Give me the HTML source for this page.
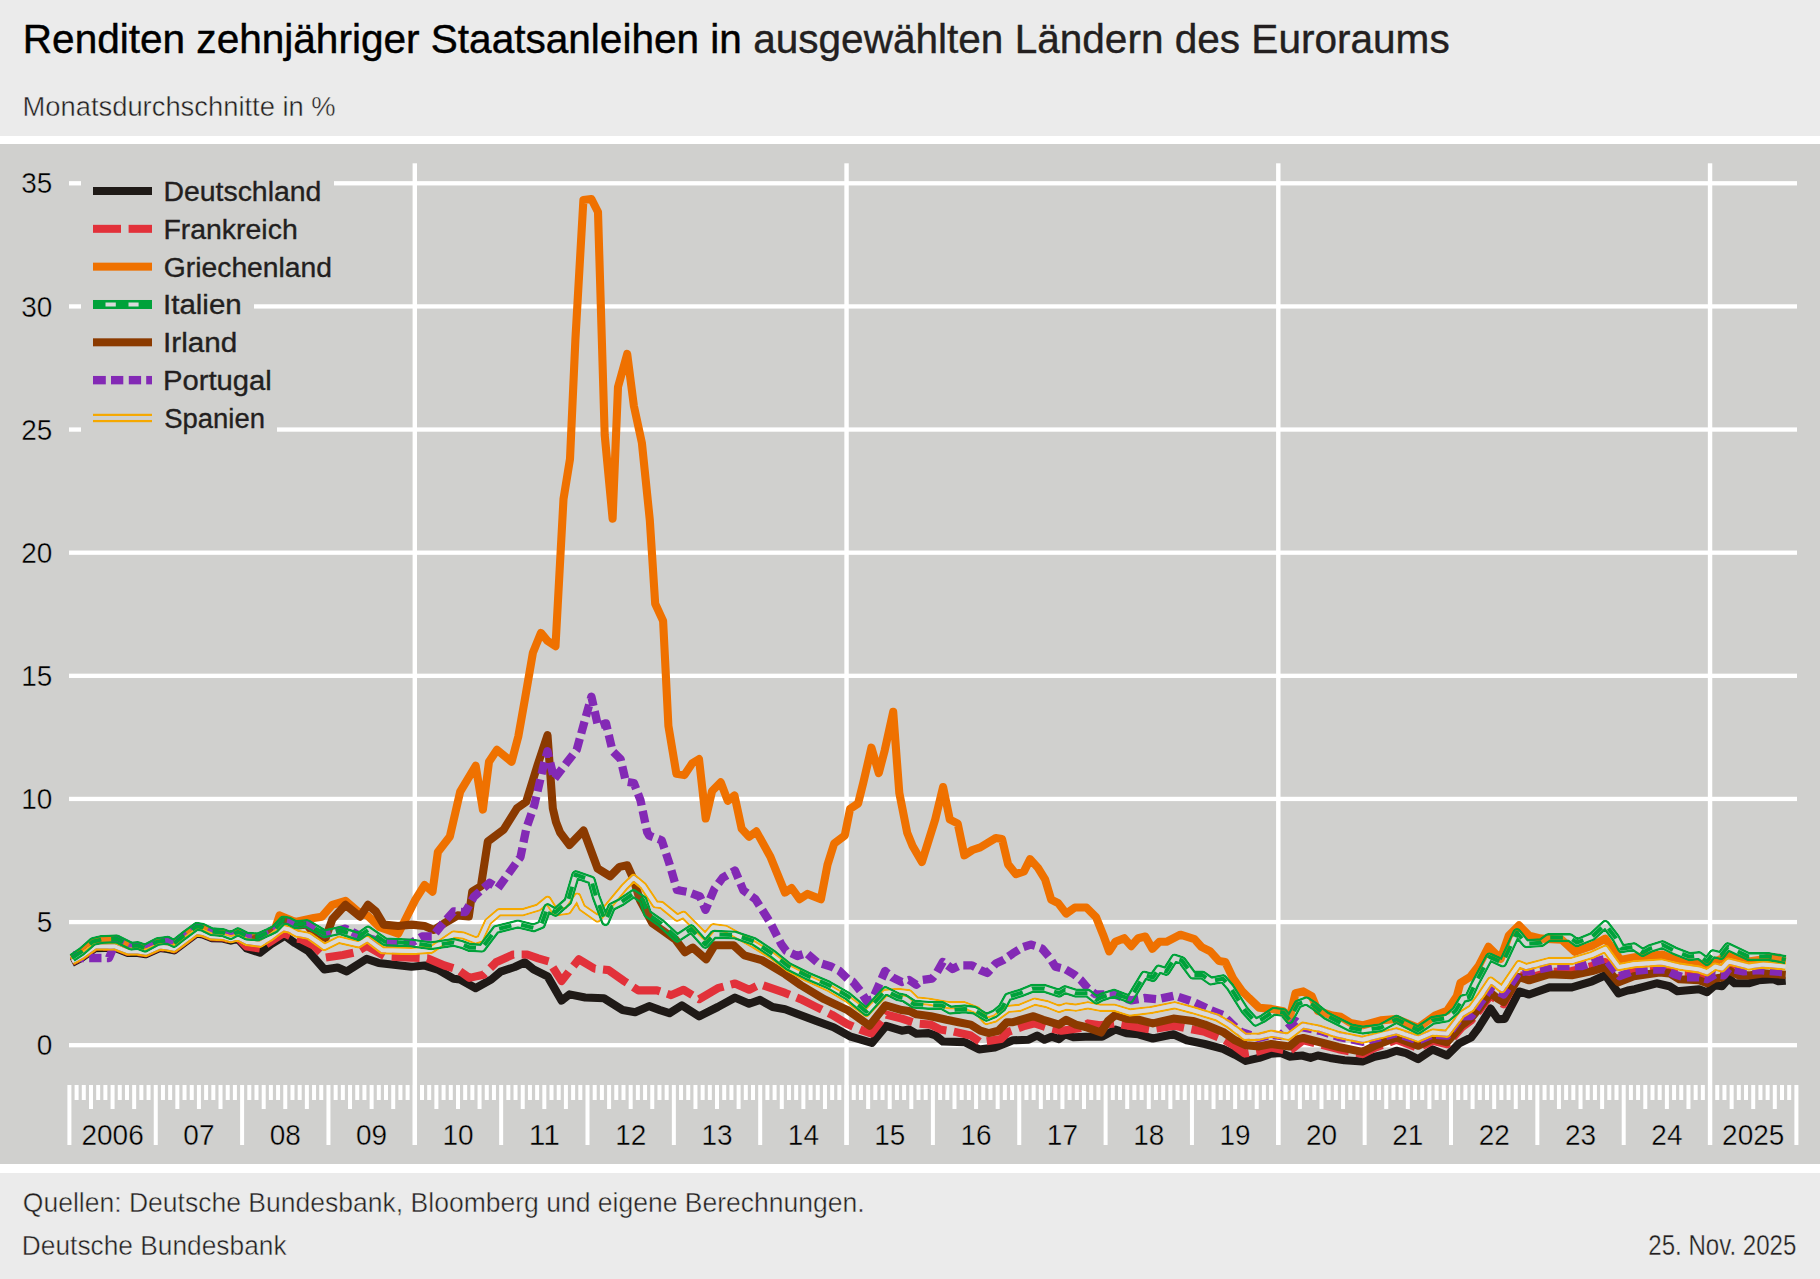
<!DOCTYPE html>
<html lang="de"><head><meta charset="utf-8"><title>Renditen zehnjähriger Staatsanleihen</title>
<style>
html,body{margin:0;padding:0;}
body{width:1820px;height:1279px;overflow:hidden;background:#ebebeb;position:relative;font-family:"Liberation Sans",Arial,sans-serif;color:#231f20;}
.band{position:absolute;left:0;width:1820px;}
#title{position:absolute;left:25px;top:14px;font-size:40px;line-height:48px;white-space:nowrap;color:#000;}
#title span{color:#231f20;}
#sub{position:absolute;left:25px;top:90px;font-size:28px;line-height:34px;white-space:nowrap;}
.ft{position:absolute;font-size:28px;line-height:34px;white-space:nowrap;}
svg{position:absolute;left:0;top:0;}
.ax{font-family:"Liberation Sans",Arial,sans-serif;font-size:29px;fill:#000;stroke:#d0d0ce;stroke-width:0.4px;}
.lg{font-family:"Liberation Sans",Arial,sans-serif;font-size:28.4px;fill:#231f20;stroke:#231f20;stroke-width:0.35px;}
.tt{font-family:"Liberation Sans",Arial,sans-serif;font-size:40.7px;fill:#000;stroke:#000;stroke-width:0.45px;}
.tt2{fill:#231f20;stroke:#231f20;stroke-width:0.4px;}
.st{font-family:"Liberation Sans",Arial,sans-serif;font-size:28.2px;fill:#231f20;stroke:#ebebeb;stroke-width:0.45px;}
.ftx{font-family:"Liberation Sans",Arial,sans-serif;font-size:27.8px;fill:#231f20;stroke:#ebebeb;stroke-width:0.45px;}
.dtx{font-family:"Liberation Sans",Arial,sans-serif;font-size:29px;fill:#231f20;stroke:#ebebeb;stroke-width:0.35px;}
.ln{fill:none;stroke-linejoin:round;stroke-linecap:butt;}
</style></head>
<body>
<div class="band" style="top:135.5px;height:8.5px;background:#fff"></div>
<div class="band" style="top:144px;height:1020px;background:#d0d0ce"></div>
<div class="band" style="top:1164px;height:8.5px;background:#fff"></div>
<svg width="1820" height="1279" viewBox="0 0 1820 1279">
<defs>
<mask id="mES" maskUnits="userSpaceOnUse" x="0" y="0" width="1820" height="1279">
<path d="M72.0,961.4 L81.8,956.1 L95.0,946.6 L114.7,946.3 L127.9,951.5 L137.8,951.5 L145.7,952.8 L159.6,946.6 L167.5,947.6 L174.0,948.9 L184.0,941.5 L196.6,932.0 L202.7,933.0 L211.5,936.6 L223.0,937.0 L230.9,939.2 L237.9,937.4 L246.7,942.0 L260.3,943.8 L271.3,937.0 L277.5,932.2 L283.6,928.2 L289.0,929.5 L297.0,933.7 L309.0,936.0 L324.4,947.0 L339.0,939.8 L358.7,944.4 L367.3,939.0 L382.4,950.3 L411.4,951.0 L431.2,949.7 L453.6,934.5 L463.0,935.4 L475.6,940.4 L480.3,938.8 L488.1,921.6 L499.1,912.3 L522.5,912.3 L538.2,907.6 L547.6,899.8 L555.4,912.3 L567.9,910.7 L577.3,896.6 L582.0,907.6 L597.6,918.5 L608.6,906.0 L624.2,887.2 L633.6,877.9 L643.0,885.7 L655.5,904.4 L661.5,905.0 L677.2,917.8 L683.5,914.7 L705.3,936.6 L713.2,927.2 L725.7,928.8 L753.8,944.4 L772.6,956.0 L788.2,968.0 L807.0,978.0 L828.9,988.0 L847.6,999.0 L866.4,1013.0 L885.1,993.0 L898.1,992.0 L909.0,993.2 L916.3,1000.4 L928.4,1001.6 L950.1,1005.3 L964.6,1005.3 L976.7,1010.1 L986.4,1021.0 L994.8,1018.6 L1008.1,1008.9 L1020.2,1007.7 L1034.7,1001.6 L1046.8,1004.1 L1058.9,1008.9 L1066.1,1006.5 L1075.8,1007.7 L1087.9,1005.3 L1100.0,1007.7 L1114.2,1007.7 L1129.9,1012.5 L1150.4,1010.1 L1174.6,1005.3 L1192.7,1010.1 L1216.9,1017.4 L1229.0,1024.6 L1244.7,1036.7 L1259.2,1036.7 L1271.3,1033.7 L1288.2,1036.7 L1303.0,1025.5 L1320.2,1028.9 L1338.4,1034.9 L1362.5,1039.8 L1396.4,1031.3 L1418.1,1038.6 L1432.6,1032.5 L1447.1,1033.7 L1461.6,1014.4 L1471.3,1008.4 L1481.0,995.1 L1490.7,980.5 L1502.0,989.2 L1519.0,964.0 L1526.1,967.1 L1549.4,961.0 L1571.8,961.0 L1592.1,954.9 L1605.3,948.8 L1618.6,967.1 L1633.8,964.3 L1661.5,962.5 L1679.3,966.5 L1699.1,969.5 L1707.0,972.4 L1715.0,966.5 L1721.9,968.5 L1728.6,961.5 L1748.6,966.5 L1763.4,964.5 L1785.7,966.5" class="ln" stroke="#fff" stroke-width="8.4"/>
<path d="M72.0,961.4 L81.8,956.1 L95.0,946.6 L114.7,946.3 L127.9,951.5 L137.8,951.5 L145.7,952.8 L159.6,946.6 L167.5,947.6 L174.0,948.9 L184.0,941.5 L196.6,932.0 L202.7,933.0 L211.5,936.6 L223.0,937.0 L230.9,939.2 L237.9,937.4 L246.7,942.0 L260.3,943.8 L271.3,937.0 L277.5,932.2 L283.6,928.2 L289.0,929.5 L297.0,933.7 L309.0,936.0 L324.4,947.0 L339.0,939.8 L358.7,944.4 L367.3,939.0 L382.4,950.3 L411.4,951.0 L431.2,949.7 L453.6,934.5 L463.0,935.4 L475.6,940.4 L480.3,938.8 L488.1,921.6 L499.1,912.3 L522.5,912.3 L538.2,907.6 L547.6,899.8 L555.4,912.3 L567.9,910.7 L577.3,896.6 L582.0,907.6 L597.6,918.5 L608.6,906.0 L624.2,887.2 L633.6,877.9 L643.0,885.7 L655.5,904.4 L661.5,905.0 L677.2,917.8 L683.5,914.7 L705.3,936.6 L713.2,927.2 L725.7,928.8 L753.8,944.4 L772.6,956.0 L788.2,968.0 L807.0,978.0 L828.9,988.0 L847.6,999.0 L866.4,1013.0 L885.1,993.0 L898.1,992.0 L909.0,993.2 L916.3,1000.4 L928.4,1001.6 L950.1,1005.3 L964.6,1005.3 L976.7,1010.1 L986.4,1021.0 L994.8,1018.6 L1008.1,1008.9 L1020.2,1007.7 L1034.7,1001.6 L1046.8,1004.1 L1058.9,1008.9 L1066.1,1006.5 L1075.8,1007.7 L1087.9,1005.3 L1100.0,1007.7 L1114.2,1007.7 L1129.9,1012.5 L1150.4,1010.1 L1174.6,1005.3 L1192.7,1010.1 L1216.9,1017.4 L1229.0,1024.6 L1244.7,1036.7 L1259.2,1036.7 L1271.3,1033.7 L1288.2,1036.7 L1303.0,1025.5 L1320.2,1028.9 L1338.4,1034.9 L1362.5,1039.8 L1396.4,1031.3 L1418.1,1038.6 L1432.6,1032.5 L1447.1,1033.7 L1461.6,1014.4 L1471.3,1008.4 L1481.0,995.1 L1490.7,980.5 L1502.0,989.2 L1519.0,964.0 L1526.1,967.1 L1549.4,961.0 L1571.8,961.0 L1592.1,954.9 L1605.3,948.8 L1618.6,967.1 L1633.8,964.3 L1661.5,962.5 L1679.3,966.5 L1699.1,969.5 L1707.0,972.4 L1715.0,966.5 L1721.9,968.5 L1728.6,961.5 L1748.6,966.5 L1763.4,964.5 L1785.7,966.5" class="ln" stroke="#000" stroke-width="4.0"/>
</mask>
<mask id="mIT" maskUnits="userSpaceOnUse" x="0" y="0" width="1820" height="1279">
<path d="M72.0,958.0 L81.8,951.4 L93.0,941.5 L101.6,939.5 L116.7,938.9 L131.2,946.1 L137.8,945.5 L145.1,948.1 L157.6,941.5 L167.5,940.2 L174.0,943.5 L183.5,936.0 L196.6,926.4 L202.7,927.3 L211.5,931.7 L223.0,932.6 L230.9,935.6 L237.9,931.7 L246.7,936.1 L258.0,936.9 L268.7,932.1 L274.8,929.1 L283.3,920.0 L288.9,921.1 L295.6,924.6 L307.0,923.5 L324.4,933.8 L340.0,930.5 L358.7,936.5 L368.0,930.0 L385.0,941.8 L411.4,943.0 L431.0,945.7 L453.6,942.4 L462.0,944.5 L469.4,947.4 L481.9,948.2 L496.0,929.5 L517.9,924.0 L533.5,927.9 L541.3,924.8 L547.6,907.6 L555.4,912.3 L567.9,901.3 L575.7,874.7 L591.4,880.2 L596.0,896.6 L605.4,921.6 L611.7,906.8 L621.1,902.1 L633.6,893.5 L643.0,899.8 L647.6,913.8 L661.5,923.6 L677.2,938.2 L691.3,928.8 L705.3,944.4 L713.9,934.3 L735.0,935.0 L753.8,941.3 L772.6,953.8 L788.2,966.3 L807.0,975.7 L828.9,985.1 L847.6,996.0 L866.4,1011.7 L885.5,990.5 L898.1,996.8 L904.2,998.0 L913.8,1004.1 L928.4,1005.3 L941.6,1005.3 L950.1,1010.1 L964.6,1008.9 L974.3,1010.1 L986.4,1017.4 L994.8,1013.7 L1002.1,1007.7 L1008.1,996.8 L1020.2,993.2 L1032.3,988.4 L1044.4,988.4 L1058.9,993.2 L1064.9,989.6 L1075.8,993.2 L1087.9,993.2 L1096.4,1000.0 L1102.0,997.0 L1114.2,993.2 L1129.9,999.2 L1144.4,975.1 L1152.9,977.5 L1158.9,969.0 L1166.2,971.4 L1174.6,958.1 L1181.9,960.5 L1192.7,975.1 L1202.4,975.1 L1210.9,981.1 L1223.0,978.7 L1230.2,987.1 L1244.7,1010.1 L1255.6,1022.2 L1262.9,1018.6 L1273.7,1011.3 L1283.4,1012.5 L1289.5,1019.8 L1297.9,1004.1 L1306.5,1000.8 L1314.2,1005.9 L1326.3,1015.6 L1338.4,1021.6 L1350.4,1027.7 L1362.5,1030.1 L1380.7,1027.7 L1396.4,1019.2 L1418.1,1030.1 L1432.6,1020.4 L1447.1,1018.0 L1455.6,1010.8 L1462.9,998.7 L1469.0,997.0 L1474.9,984.2 L1489.5,956.9 L1502.7,963.0 L1516.9,932.5 L1526.1,943.7 L1541.3,942.7 L1548.4,937.6 L1569.8,937.6 L1576.9,942.7 L1592.1,936.6 L1605.3,924.4 L1615.5,937.6 L1621.6,948.8 L1633.8,946.7 L1642.8,952.6 L1649.7,948.7 L1662.5,944.7 L1674.4,950.7 L1689.2,956.6 L1699.1,955.6 L1707.0,961.5 L1713.0,953.6 L1720.9,955.6 L1727.8,946.7 L1748.6,956.6 L1768.4,956.6 L1785.7,959.6" class="ln" stroke="#fff" stroke-width="9.2"/>
<path d="M72.0,958.0 L81.8,951.4 L93.0,941.5 L101.6,939.5 L116.7,938.9 L131.2,946.1 L137.8,945.5 L145.1,948.1 L157.6,941.5 L167.5,940.2 L174.0,943.5 L183.5,936.0 L196.6,926.4 L202.7,927.3 L211.5,931.7 L223.0,932.6 L230.9,935.6 L237.9,931.7 L246.7,936.1 L258.0,936.9 L268.7,932.1 L274.8,929.1 L283.3,920.0 L288.9,921.1 L295.6,924.6 L307.0,923.5 L324.4,933.8 L340.0,930.5 L358.7,936.5 L368.0,930.0 L385.0,941.8 L411.4,943.0 L431.0,945.7 L453.6,942.4 L462.0,944.5 L469.4,947.4 L481.9,948.2 L496.0,929.5 L517.9,924.0 L533.5,927.9 L541.3,924.8 L547.6,907.6 L555.4,912.3 L567.9,901.3 L575.7,874.7 L591.4,880.2 L596.0,896.6 L605.4,921.6 L611.7,906.8 L621.1,902.1 L633.6,893.5 L643.0,899.8 L647.6,913.8 L661.5,923.6 L677.2,938.2 L691.3,928.8 L705.3,944.4 L713.9,934.3 L735.0,935.0 L753.8,941.3 L772.6,953.8 L788.2,966.3 L807.0,975.7 L828.9,985.1 L847.6,996.0 L866.4,1011.7 L885.5,990.5 L898.1,996.8 L904.2,998.0 L913.8,1004.1 L928.4,1005.3 L941.6,1005.3 L950.1,1010.1 L964.6,1008.9 L974.3,1010.1 L986.4,1017.4 L994.8,1013.7 L1002.1,1007.7 L1008.1,996.8 L1020.2,993.2 L1032.3,988.4 L1044.4,988.4 L1058.9,993.2 L1064.9,989.6 L1075.8,993.2 L1087.9,993.2 L1096.4,1000.0 L1102.0,997.0 L1114.2,993.2 L1129.9,999.2 L1144.4,975.1 L1152.9,977.5 L1158.9,969.0 L1166.2,971.4 L1174.6,958.1 L1181.9,960.5 L1192.7,975.1 L1202.4,975.1 L1210.9,981.1 L1223.0,978.7 L1230.2,987.1 L1244.7,1010.1 L1255.6,1022.2 L1262.9,1018.6 L1273.7,1011.3 L1283.4,1012.5 L1289.5,1019.8 L1297.9,1004.1 L1306.5,1000.8 L1314.2,1005.9 L1326.3,1015.6 L1338.4,1021.6 L1350.4,1027.7 L1362.5,1030.1 L1380.7,1027.7 L1396.4,1019.2 L1418.1,1030.1 L1432.6,1020.4 L1447.1,1018.0 L1455.6,1010.8 L1462.9,998.7 L1469.0,997.0 L1474.9,984.2 L1489.5,956.9 L1502.7,963.0 L1516.9,932.5 L1526.1,943.7 L1541.3,942.7 L1548.4,937.6 L1569.8,937.6 L1576.9,942.7 L1592.1,936.6 L1605.3,924.4 L1615.5,937.6 L1621.6,948.8 L1633.8,946.7 L1642.8,952.6 L1649.7,948.7 L1662.5,944.7 L1674.4,950.7 L1689.2,956.6 L1699.1,955.6 L1707.0,961.5 L1713.0,953.6 L1720.9,955.6 L1727.8,946.7 L1748.6,956.6 L1768.4,956.6 L1785.7,959.6" class="ln" stroke="#000" stroke-width="4.4"/>
</mask>
</defs>
<rect x="69" y="1043.05" width="1728" height="4.3" fill="#fff"/>
<rect x="69" y="919.92" width="1728" height="4.3" fill="#fff"/>
<rect x="69" y="796.79" width="1728" height="4.3" fill="#fff"/>
<rect x="69" y="673.66" width="1728" height="4.3" fill="#fff"/>
<rect x="69" y="550.53" width="1728" height="4.3" fill="#fff"/>
<rect x="69" y="427.40" width="1728" height="4.3" fill="#fff"/>
<rect x="69" y="304.27" width="1728" height="4.3" fill="#fff"/>
<rect x="69" y="181.14" width="1728" height="4.3" fill="#fff"/>
<rect x="412.60" y="163.3" width="4.4" height="981.7" fill="#fff"/>
<rect x="844.35" y="163.3" width="4.4" height="981.7" fill="#fff"/>
<rect x="1276.10" y="163.3" width="4.4" height="981.7" fill="#fff"/>
<rect x="1707.85" y="163.3" width="4.4" height="981.7" fill="#fff"/>
<rect x="67.40" y="1085" width="4" height="60" fill="#fff"/>
<rect x="74.60" y="1085" width="4" height="15" fill="#fff"/>
<rect x="81.79" y="1085" width="4" height="15" fill="#fff"/>
<rect x="88.99" y="1085" width="4" height="24" fill="#fff"/>
<rect x="96.18" y="1085" width="4" height="15" fill="#fff"/>
<rect x="103.38" y="1085" width="4" height="15" fill="#fff"/>
<rect x="110.58" y="1085" width="4" height="24" fill="#fff"/>
<rect x="117.77" y="1085" width="4" height="15" fill="#fff"/>
<rect x="124.97" y="1085" width="4" height="15" fill="#fff"/>
<rect x="132.16" y="1085" width="4" height="24" fill="#fff"/>
<rect x="139.36" y="1085" width="4" height="15" fill="#fff"/>
<rect x="146.55" y="1085" width="4" height="15" fill="#fff"/>
<rect x="153.75" y="1085" width="4" height="60" fill="#fff"/>
<rect x="160.95" y="1085" width="4" height="15" fill="#fff"/>
<rect x="168.14" y="1085" width="4" height="15" fill="#fff"/>
<rect x="175.34" y="1085" width="4" height="24" fill="#fff"/>
<rect x="182.53" y="1085" width="4" height="15" fill="#fff"/>
<rect x="189.73" y="1085" width="4" height="15" fill="#fff"/>
<rect x="196.92" y="1085" width="4" height="24" fill="#fff"/>
<rect x="204.12" y="1085" width="4" height="15" fill="#fff"/>
<rect x="211.32" y="1085" width="4" height="15" fill="#fff"/>
<rect x="218.51" y="1085" width="4" height="24" fill="#fff"/>
<rect x="225.71" y="1085" width="4" height="15" fill="#fff"/>
<rect x="232.90" y="1085" width="4" height="15" fill="#fff"/>
<rect x="240.10" y="1085" width="4" height="60" fill="#fff"/>
<rect x="247.30" y="1085" width="4" height="15" fill="#fff"/>
<rect x="254.49" y="1085" width="4" height="15" fill="#fff"/>
<rect x="261.69" y="1085" width="4" height="24" fill="#fff"/>
<rect x="268.88" y="1085" width="4" height="15" fill="#fff"/>
<rect x="276.08" y="1085" width="4" height="15" fill="#fff"/>
<rect x="283.27" y="1085" width="4" height="24" fill="#fff"/>
<rect x="290.47" y="1085" width="4" height="15" fill="#fff"/>
<rect x="297.67" y="1085" width="4" height="15" fill="#fff"/>
<rect x="304.86" y="1085" width="4" height="24" fill="#fff"/>
<rect x="312.06" y="1085" width="4" height="15" fill="#fff"/>
<rect x="319.25" y="1085" width="4" height="15" fill="#fff"/>
<rect x="326.45" y="1085" width="4" height="60" fill="#fff"/>
<rect x="333.65" y="1085" width="4" height="15" fill="#fff"/>
<rect x="340.84" y="1085" width="4" height="15" fill="#fff"/>
<rect x="348.04" y="1085" width="4" height="24" fill="#fff"/>
<rect x="355.23" y="1085" width="4" height="15" fill="#fff"/>
<rect x="362.43" y="1085" width="4" height="15" fill="#fff"/>
<rect x="369.62" y="1085" width="4" height="24" fill="#fff"/>
<rect x="376.82" y="1085" width="4" height="15" fill="#fff"/>
<rect x="384.02" y="1085" width="4" height="15" fill="#fff"/>
<rect x="391.21" y="1085" width="4" height="24" fill="#fff"/>
<rect x="398.41" y="1085" width="4" height="15" fill="#fff"/>
<rect x="405.60" y="1085" width="4" height="15" fill="#fff"/>
<rect x="412.80" y="1085" width="4" height="60" fill="#fff"/>
<rect x="420.00" y="1085" width="4" height="15" fill="#fff"/>
<rect x="427.19" y="1085" width="4" height="15" fill="#fff"/>
<rect x="434.39" y="1085" width="4" height="24" fill="#fff"/>
<rect x="441.58" y="1085" width="4" height="15" fill="#fff"/>
<rect x="448.78" y="1085" width="4" height="15" fill="#fff"/>
<rect x="455.98" y="1085" width="4" height="24" fill="#fff"/>
<rect x="463.17" y="1085" width="4" height="15" fill="#fff"/>
<rect x="470.37" y="1085" width="4" height="15" fill="#fff"/>
<rect x="477.56" y="1085" width="4" height="24" fill="#fff"/>
<rect x="484.76" y="1085" width="4" height="15" fill="#fff"/>
<rect x="491.95" y="1085" width="4" height="15" fill="#fff"/>
<rect x="499.15" y="1085" width="4" height="60" fill="#fff"/>
<rect x="506.35" y="1085" width="4" height="15" fill="#fff"/>
<rect x="513.54" y="1085" width="4" height="15" fill="#fff"/>
<rect x="520.74" y="1085" width="4" height="24" fill="#fff"/>
<rect x="527.93" y="1085" width="4" height="15" fill="#fff"/>
<rect x="535.13" y="1085" width="4" height="15" fill="#fff"/>
<rect x="542.32" y="1085" width="4" height="24" fill="#fff"/>
<rect x="549.52" y="1085" width="4" height="15" fill="#fff"/>
<rect x="556.72" y="1085" width="4" height="15" fill="#fff"/>
<rect x="563.91" y="1085" width="4" height="24" fill="#fff"/>
<rect x="571.11" y="1085" width="4" height="15" fill="#fff"/>
<rect x="578.30" y="1085" width="4" height="15" fill="#fff"/>
<rect x="585.50" y="1085" width="4" height="60" fill="#fff"/>
<rect x="592.70" y="1085" width="4" height="15" fill="#fff"/>
<rect x="599.89" y="1085" width="4" height="15" fill="#fff"/>
<rect x="607.09" y="1085" width="4" height="24" fill="#fff"/>
<rect x="614.28" y="1085" width="4" height="15" fill="#fff"/>
<rect x="621.48" y="1085" width="4" height="15" fill="#fff"/>
<rect x="628.67" y="1085" width="4" height="24" fill="#fff"/>
<rect x="635.87" y="1085" width="4" height="15" fill="#fff"/>
<rect x="643.07" y="1085" width="4" height="15" fill="#fff"/>
<rect x="650.26" y="1085" width="4" height="24" fill="#fff"/>
<rect x="657.46" y="1085" width="4" height="15" fill="#fff"/>
<rect x="664.65" y="1085" width="4" height="15" fill="#fff"/>
<rect x="671.85" y="1085" width="4" height="60" fill="#fff"/>
<rect x="679.05" y="1085" width="4" height="15" fill="#fff"/>
<rect x="686.24" y="1085" width="4" height="15" fill="#fff"/>
<rect x="693.44" y="1085" width="4" height="24" fill="#fff"/>
<rect x="700.63" y="1085" width="4" height="15" fill="#fff"/>
<rect x="707.83" y="1085" width="4" height="15" fill="#fff"/>
<rect x="715.02" y="1085" width="4" height="24" fill="#fff"/>
<rect x="722.22" y="1085" width="4" height="15" fill="#fff"/>
<rect x="729.42" y="1085" width="4" height="15" fill="#fff"/>
<rect x="736.61" y="1085" width="4" height="24" fill="#fff"/>
<rect x="743.81" y="1085" width="4" height="15" fill="#fff"/>
<rect x="751.00" y="1085" width="4" height="15" fill="#fff"/>
<rect x="758.20" y="1085" width="4" height="60" fill="#fff"/>
<rect x="765.40" y="1085" width="4" height="15" fill="#fff"/>
<rect x="772.59" y="1085" width="4" height="15" fill="#fff"/>
<rect x="779.79" y="1085" width="4" height="24" fill="#fff"/>
<rect x="786.98" y="1085" width="4" height="15" fill="#fff"/>
<rect x="794.18" y="1085" width="4" height="15" fill="#fff"/>
<rect x="801.37" y="1085" width="4" height="24" fill="#fff"/>
<rect x="808.57" y="1085" width="4" height="15" fill="#fff"/>
<rect x="815.77" y="1085" width="4" height="15" fill="#fff"/>
<rect x="822.96" y="1085" width="4" height="24" fill="#fff"/>
<rect x="830.16" y="1085" width="4" height="15" fill="#fff"/>
<rect x="837.35" y="1085" width="4" height="15" fill="#fff"/>
<rect x="844.55" y="1085" width="4" height="60" fill="#fff"/>
<rect x="851.75" y="1085" width="4" height="15" fill="#fff"/>
<rect x="858.94" y="1085" width="4" height="15" fill="#fff"/>
<rect x="866.14" y="1085" width="4" height="24" fill="#fff"/>
<rect x="873.33" y="1085" width="4" height="15" fill="#fff"/>
<rect x="880.53" y="1085" width="4" height="15" fill="#fff"/>
<rect x="887.72" y="1085" width="4" height="24" fill="#fff"/>
<rect x="894.92" y="1085" width="4" height="15" fill="#fff"/>
<rect x="902.12" y="1085" width="4" height="15" fill="#fff"/>
<rect x="909.31" y="1085" width="4" height="24" fill="#fff"/>
<rect x="916.51" y="1085" width="4" height="15" fill="#fff"/>
<rect x="923.70" y="1085" width="4" height="15" fill="#fff"/>
<rect x="930.90" y="1085" width="4" height="60" fill="#fff"/>
<rect x="938.10" y="1085" width="4" height="15" fill="#fff"/>
<rect x="945.29" y="1085" width="4" height="15" fill="#fff"/>
<rect x="952.49" y="1085" width="4" height="24" fill="#fff"/>
<rect x="959.68" y="1085" width="4" height="15" fill="#fff"/>
<rect x="966.88" y="1085" width="4" height="15" fill="#fff"/>
<rect x="974.07" y="1085" width="4" height="24" fill="#fff"/>
<rect x="981.27" y="1085" width="4" height="15" fill="#fff"/>
<rect x="988.47" y="1085" width="4" height="15" fill="#fff"/>
<rect x="995.66" y="1085" width="4" height="24" fill="#fff"/>
<rect x="1002.86" y="1085" width="4" height="15" fill="#fff"/>
<rect x="1010.05" y="1085" width="4" height="15" fill="#fff"/>
<rect x="1017.25" y="1085" width="4" height="60" fill="#fff"/>
<rect x="1024.45" y="1085" width="4" height="15" fill="#fff"/>
<rect x="1031.64" y="1085" width="4" height="15" fill="#fff"/>
<rect x="1038.84" y="1085" width="4" height="24" fill="#fff"/>
<rect x="1046.03" y="1085" width="4" height="15" fill="#fff"/>
<rect x="1053.23" y="1085" width="4" height="15" fill="#fff"/>
<rect x="1060.42" y="1085" width="4" height="24" fill="#fff"/>
<rect x="1067.62" y="1085" width="4" height="15" fill="#fff"/>
<rect x="1074.82" y="1085" width="4" height="15" fill="#fff"/>
<rect x="1082.01" y="1085" width="4" height="24" fill="#fff"/>
<rect x="1089.21" y="1085" width="4" height="15" fill="#fff"/>
<rect x="1096.40" y="1085" width="4" height="15" fill="#fff"/>
<rect x="1103.60" y="1085" width="4" height="60" fill="#fff"/>
<rect x="1110.80" y="1085" width="4" height="15" fill="#fff"/>
<rect x="1117.99" y="1085" width="4" height="15" fill="#fff"/>
<rect x="1125.19" y="1085" width="4" height="24" fill="#fff"/>
<rect x="1132.38" y="1085" width="4" height="15" fill="#fff"/>
<rect x="1139.58" y="1085" width="4" height="15" fill="#fff"/>
<rect x="1146.78" y="1085" width="4" height="24" fill="#fff"/>
<rect x="1153.97" y="1085" width="4" height="15" fill="#fff"/>
<rect x="1161.17" y="1085" width="4" height="15" fill="#fff"/>
<rect x="1168.36" y="1085" width="4" height="24" fill="#fff"/>
<rect x="1175.56" y="1085" width="4" height="15" fill="#fff"/>
<rect x="1182.75" y="1085" width="4" height="15" fill="#fff"/>
<rect x="1189.95" y="1085" width="4" height="60" fill="#fff"/>
<rect x="1197.15" y="1085" width="4" height="15" fill="#fff"/>
<rect x="1204.34" y="1085" width="4" height="15" fill="#fff"/>
<rect x="1211.54" y="1085" width="4" height="24" fill="#fff"/>
<rect x="1218.73" y="1085" width="4" height="15" fill="#fff"/>
<rect x="1225.93" y="1085" width="4" height="15" fill="#fff"/>
<rect x="1233.12" y="1085" width="4" height="24" fill="#fff"/>
<rect x="1240.32" y="1085" width="4" height="15" fill="#fff"/>
<rect x="1247.52" y="1085" width="4" height="15" fill="#fff"/>
<rect x="1254.71" y="1085" width="4" height="24" fill="#fff"/>
<rect x="1261.91" y="1085" width="4" height="15" fill="#fff"/>
<rect x="1269.10" y="1085" width="4" height="15" fill="#fff"/>
<rect x="1276.30" y="1085" width="4" height="60" fill="#fff"/>
<rect x="1283.50" y="1085" width="4" height="15" fill="#fff"/>
<rect x="1290.69" y="1085" width="4" height="15" fill="#fff"/>
<rect x="1297.89" y="1085" width="4" height="24" fill="#fff"/>
<rect x="1305.08" y="1085" width="4" height="15" fill="#fff"/>
<rect x="1312.28" y="1085" width="4" height="15" fill="#fff"/>
<rect x="1319.47" y="1085" width="4" height="24" fill="#fff"/>
<rect x="1326.67" y="1085" width="4" height="15" fill="#fff"/>
<rect x="1333.87" y="1085" width="4" height="15" fill="#fff"/>
<rect x="1341.06" y="1085" width="4" height="24" fill="#fff"/>
<rect x="1348.26" y="1085" width="4" height="15" fill="#fff"/>
<rect x="1355.45" y="1085" width="4" height="15" fill="#fff"/>
<rect x="1362.65" y="1085" width="4" height="60" fill="#fff"/>
<rect x="1369.85" y="1085" width="4" height="15" fill="#fff"/>
<rect x="1377.04" y="1085" width="4" height="15" fill="#fff"/>
<rect x="1384.24" y="1085" width="4" height="24" fill="#fff"/>
<rect x="1391.43" y="1085" width="4" height="15" fill="#fff"/>
<rect x="1398.63" y="1085" width="4" height="15" fill="#fff"/>
<rect x="1405.83" y="1085" width="4" height="24" fill="#fff"/>
<rect x="1413.02" y="1085" width="4" height="15" fill="#fff"/>
<rect x="1420.22" y="1085" width="4" height="15" fill="#fff"/>
<rect x="1427.41" y="1085" width="4" height="24" fill="#fff"/>
<rect x="1434.61" y="1085" width="4" height="15" fill="#fff"/>
<rect x="1441.80" y="1085" width="4" height="15" fill="#fff"/>
<rect x="1449.00" y="1085" width="4" height="60" fill="#fff"/>
<rect x="1456.20" y="1085" width="4" height="15" fill="#fff"/>
<rect x="1463.39" y="1085" width="4" height="15" fill="#fff"/>
<rect x="1470.59" y="1085" width="4" height="24" fill="#fff"/>
<rect x="1477.78" y="1085" width="4" height="15" fill="#fff"/>
<rect x="1484.98" y="1085" width="4" height="15" fill="#fff"/>
<rect x="1492.17" y="1085" width="4" height="24" fill="#fff"/>
<rect x="1499.37" y="1085" width="4" height="15" fill="#fff"/>
<rect x="1506.57" y="1085" width="4" height="15" fill="#fff"/>
<rect x="1513.76" y="1085" width="4" height="24" fill="#fff"/>
<rect x="1520.96" y="1085" width="4" height="15" fill="#fff"/>
<rect x="1528.15" y="1085" width="4" height="15" fill="#fff"/>
<rect x="1535.35" y="1085" width="4" height="60" fill="#fff"/>
<rect x="1542.55" y="1085" width="4" height="15" fill="#fff"/>
<rect x="1549.74" y="1085" width="4" height="15" fill="#fff"/>
<rect x="1556.94" y="1085" width="4" height="24" fill="#fff"/>
<rect x="1564.13" y="1085" width="4" height="15" fill="#fff"/>
<rect x="1571.33" y="1085" width="4" height="15" fill="#fff"/>
<rect x="1578.53" y="1085" width="4" height="24" fill="#fff"/>
<rect x="1585.72" y="1085" width="4" height="15" fill="#fff"/>
<rect x="1592.92" y="1085" width="4" height="15" fill="#fff"/>
<rect x="1600.11" y="1085" width="4" height="24" fill="#fff"/>
<rect x="1607.31" y="1085" width="4" height="15" fill="#fff"/>
<rect x="1614.50" y="1085" width="4" height="15" fill="#fff"/>
<rect x="1621.70" y="1085" width="4" height="60" fill="#fff"/>
<rect x="1628.90" y="1085" width="4" height="15" fill="#fff"/>
<rect x="1636.09" y="1085" width="4" height="15" fill="#fff"/>
<rect x="1643.29" y="1085" width="4" height="24" fill="#fff"/>
<rect x="1650.48" y="1085" width="4" height="15" fill="#fff"/>
<rect x="1657.68" y="1085" width="4" height="15" fill="#fff"/>
<rect x="1664.88" y="1085" width="4" height="24" fill="#fff"/>
<rect x="1672.07" y="1085" width="4" height="15" fill="#fff"/>
<rect x="1679.27" y="1085" width="4" height="15" fill="#fff"/>
<rect x="1686.46" y="1085" width="4" height="24" fill="#fff"/>
<rect x="1693.66" y="1085" width="4" height="15" fill="#fff"/>
<rect x="1700.85" y="1085" width="4" height="15" fill="#fff"/>
<rect x="1708.05" y="1085" width="4" height="60" fill="#fff"/>
<rect x="1715.25" y="1085" width="4" height="15" fill="#fff"/>
<rect x="1722.44" y="1085" width="4" height="15" fill="#fff"/>
<rect x="1729.64" y="1085" width="4" height="24" fill="#fff"/>
<rect x="1736.83" y="1085" width="4" height="15" fill="#fff"/>
<rect x="1744.03" y="1085" width="4" height="15" fill="#fff"/>
<rect x="1751.22" y="1085" width="4" height="24" fill="#fff"/>
<rect x="1758.42" y="1085" width="4" height="15" fill="#fff"/>
<rect x="1765.62" y="1085" width="4" height="15" fill="#fff"/>
<rect x="1772.81" y="1085" width="4" height="24" fill="#fff"/>
<rect x="1780.01" y="1085" width="4" height="15" fill="#fff"/>
<rect x="1787.20" y="1085" width="4" height="15" fill="#fff"/>
<rect x="1794.40" y="1085" width="4" height="60" fill="#fff"/>
<text x="112.6" y="1144.6" text-anchor="middle" class="ax" textLength="62.2" lengthAdjust="spacingAndGlyphs">2006</text>
<text x="198.9" y="1144.6" text-anchor="middle" class="ax" textLength="31.1" lengthAdjust="spacingAndGlyphs">07</text>
<text x="285.3" y="1144.6" text-anchor="middle" class="ax" textLength="31.1" lengthAdjust="spacingAndGlyphs">08</text>
<text x="371.6" y="1144.6" text-anchor="middle" class="ax" textLength="31.1" lengthAdjust="spacingAndGlyphs">09</text>
<text x="458.0" y="1144.6" text-anchor="middle" class="ax" textLength="31.1" lengthAdjust="spacingAndGlyphs">10</text>
<text x="544.3" y="1144.6" text-anchor="middle" class="ax" textLength="31.1" lengthAdjust="spacingAndGlyphs">11</text>
<text x="630.7" y="1144.6" text-anchor="middle" class="ax" textLength="31.1" lengthAdjust="spacingAndGlyphs">12</text>
<text x="717.0" y="1144.6" text-anchor="middle" class="ax" textLength="31.1" lengthAdjust="spacingAndGlyphs">13</text>
<text x="803.4" y="1144.6" text-anchor="middle" class="ax" textLength="31.1" lengthAdjust="spacingAndGlyphs">14</text>
<text x="889.7" y="1144.6" text-anchor="middle" class="ax" textLength="31.1" lengthAdjust="spacingAndGlyphs">15</text>
<text x="976.1" y="1144.6" text-anchor="middle" class="ax" textLength="31.1" lengthAdjust="spacingAndGlyphs">16</text>
<text x="1062.4" y="1144.6" text-anchor="middle" class="ax" textLength="31.1" lengthAdjust="spacingAndGlyphs">17</text>
<text x="1148.8" y="1144.6" text-anchor="middle" class="ax" textLength="31.1" lengthAdjust="spacingAndGlyphs">18</text>
<text x="1235.1" y="1144.6" text-anchor="middle" class="ax" textLength="31.1" lengthAdjust="spacingAndGlyphs">19</text>
<text x="1321.5" y="1144.6" text-anchor="middle" class="ax" textLength="31.1" lengthAdjust="spacingAndGlyphs">20</text>
<text x="1407.8" y="1144.6" text-anchor="middle" class="ax" textLength="31.1" lengthAdjust="spacingAndGlyphs">21</text>
<text x="1494.2" y="1144.6" text-anchor="middle" class="ax" textLength="31.1" lengthAdjust="spacingAndGlyphs">22</text>
<text x="1580.5" y="1144.6" text-anchor="middle" class="ax" textLength="31.1" lengthAdjust="spacingAndGlyphs">23</text>
<text x="1666.9" y="1144.6" text-anchor="middle" class="ax" textLength="31.1" lengthAdjust="spacingAndGlyphs">24</text>
<text x="1753.2" y="1144.6" text-anchor="middle" class="ax" textLength="62.2" lengthAdjust="spacingAndGlyphs">2025</text>
<text x="52.3" y="1055.3" text-anchor="end" class="ax" textLength="15.6" lengthAdjust="spacingAndGlyphs">0</text>
<text x="52.3" y="932.2" text-anchor="end" class="ax" textLength="15.6" lengthAdjust="spacingAndGlyphs">5</text>
<text x="52.3" y="809.0" text-anchor="end" class="ax" textLength="31.1" lengthAdjust="spacingAndGlyphs">10</text>
<text x="52.3" y="685.9" text-anchor="end" class="ax" textLength="31.1" lengthAdjust="spacingAndGlyphs">15</text>
<text x="52.3" y="562.8" text-anchor="end" class="ax" textLength="31.1" lengthAdjust="spacingAndGlyphs">20</text>
<text x="52.3" y="439.7" text-anchor="end" class="ax" textLength="31.1" lengthAdjust="spacingAndGlyphs">25</text>
<text x="52.3" y="316.5" text-anchor="end" class="ax" textLength="31.1" lengthAdjust="spacingAndGlyphs">30</text>
<text x="52.3" y="193.4" text-anchor="end" class="ax" textLength="31.1" lengthAdjust="spacingAndGlyphs">35</text>
<rect x="81" y="172" width="253" height="38" fill="#d0d0ce"/>
<rect x="81" y="210" width="228" height="38" fill="#d0d0ce"/>
<rect x="81" y="248" width="263" height="38" fill="#d0d0ce"/>
<rect x="81" y="285" width="173" height="38" fill="#d0d0ce"/>
<rect x="81" y="323" width="168" height="38" fill="#d0d0ce"/>
<rect x="81" y="361" width="202" height="38" fill="#d0d0ce"/>
<rect x="81" y="399" width="196" height="38" fill="#d0d0ce"/>
<rect x="93" y="187.0" width="59" height="8" fill="#1f1a17"/>
<text id="t_leg0" x="163.40000000000003" y="201.0" class="lg" textLength="158.04" lengthAdjust="spacingAndGlyphs">Deutschland</text>
<rect x="93" y="224.82999999999998" width="28" height="8" fill="#e2313a"/>
<rect x="128.6" y="224.82999999999998" width="23.4" height="8" fill="#e2313a"/>
<text id="t_leg1" x="163.40000000000003" y="238.8" class="lg" textLength="134.32" lengthAdjust="spacingAndGlyphs">Frankreich</text>
<rect x="93" y="262.65999999999997" width="59" height="8" fill="#ef7100"/>
<text id="t_leg2" x="163.80000000000007" y="276.6" class="lg" textLength="168.27" lengthAdjust="spacingAndGlyphs">Griechenland</text>
<rect x="93" y="299.99" width="59" height="9" fill="#00a23a"/>
<rect x="105.5" y="302.5" width="10.3" height="4.0" fill="#dadada"/>
<rect x="128.5" y="302.5" width="10.1" height="4.0" fill="#dadada"/>
<text id="t_leg3" x="163.0" y="314.4" class="lg" textLength="78.72" lengthAdjust="spacingAndGlyphs">Italien</text>
<rect x="93" y="338.32" width="59" height="8" fill="#8b3a00"/>
<text id="t_leg4" x="163.0" y="352.2" class="lg" textLength="74.24" lengthAdjust="spacingAndGlyphs">Irland</text>
<rect x="93" y="375.95" width="12.8" height="8.4" fill="#8329b5"/>
<rect x="111" y="375.95" width="12.3" height="8.4" fill="#8329b5"/>
<rect x="128.8" y="375.95" width="12.3" height="8.4" fill="#8329b5"/>
<rect x="146.2" y="375.95" width="5.8" height="8.4" fill="#8329b5"/>
<text id="t_leg5" x="163.0" y="390.0" class="lg" textLength="108.87" lengthAdjust="spacingAndGlyphs">Portugal</text>
<rect x="93" y="413.78000000000003" width="59" height="2.2" fill="#f5a800"/>
<rect x="93" y="419.98" width="59" height="2.2" fill="#f5a800"/>
<text id="t_leg6" x="164.19999999999993" y="427.8" class="lg" textLength="100.74" lengthAdjust="spacingAndGlyphs">Spanien</text>
<path d="M72.0,962.9 L81.8,957.6 L95.0,948.1 L114.7,947.8 L127.9,953.0 L137.8,953.0 L145.7,954.3 L159.6,948.1 L167.5,949.1 L174.0,950.4 L184.0,943.0 L196.6,933.5 L202.7,934.5 L211.5,938.1 L223.0,938.5 L230.9,940.7 L237.9,938.9 L246.7,948.4 L259.9,952.7 L271.3,944.0 L284.8,935.8 L295.0,943.1 L308.2,951.0 L324.4,969.5 L337.6,967.5 L346.8,971.4 L366.6,958.9 L378.5,962.9 L411.4,966.8 L424.6,965.5 L437.8,969.5 L453.6,978.7 L460.0,979.5 L475.6,988.1 L491.3,979.5 L500.7,971.7 L514.7,967.0 L524.9,962.3 L533.5,969.3 L547.6,976.4 L561.6,1000.6 L569.5,994.4 L585.1,997.5 L603.9,998.3 L622.6,1010.0 L635.1,1012.3 L649.2,1006.1 L660.0,1010.1 L669.4,1013.2 L681.9,1005.4 L699.1,1016.3 L717.8,1007.0 L735.0,997.6 L749.1,1003.8 L760.1,999.9 L772.6,1007.0 L785.1,1009.3 L797.6,1014.0 L816.3,1021.0 L833.5,1027.3 L850.7,1036.7 L871.9,1042.9 L886.0,1025.8 L901.8,1030.7 L909.0,1029.5 L916.3,1033.7 L928.4,1033.1 L935.6,1035.5 L942.9,1041.5 L964.6,1042.1 L979.1,1049.4 L994.8,1047.6 L1006.9,1042.7 L1013.0,1040.3 L1028.7,1039.7 L1037.1,1035.5 L1044.4,1039.7 L1051.6,1036.7 L1058.9,1039.1 L1064.9,1034.3 L1073.4,1037.3 L1085.5,1036.7 L1102.1,1036.7 L1115.4,1029.5 L1126.3,1033.1 L1138.4,1034.3 L1152.9,1038.5 L1173.4,1034.3 L1186.7,1040.3 L1204.8,1044.0 L1223.0,1048.8 L1235.1,1054.8 L1245.9,1060.9 L1259.2,1057.9 L1271.3,1053.6 L1281.0,1053.0 L1289.5,1056.6 L1302.1,1055.5 L1310.5,1057.9 L1317.8,1055.5 L1329.9,1057.9 L1344.4,1060.3 L1362.5,1061.5 L1374.6,1056.7 L1386.7,1054.3 L1396.4,1050.7 L1406.0,1053.1 L1418.1,1059.1 L1432.6,1049.4 L1447.1,1055.5 L1459.2,1043.4 L1471.3,1037.4 L1478.6,1027.7 L1490.6,1008.6 L1497.9,1019.2 L1504.7,1018.9 L1519.0,991.5 L1529.1,994.5 L1549.4,987.4 L1571.8,987.4 L1592.1,981.3 L1605.3,975.2 L1618.6,993.5 L1627.7,990.5 L1634.8,989.2 L1656.6,983.3 L1669.5,986.3 L1677.4,991.2 L1699.1,989.2 L1707.0,992.2 L1715.0,985.3 L1721.9,986.3 L1728.8,978.4 L1734.7,983.3 L1748.6,983.3 L1758.5,980.3 L1773.3,979.3 L1778.3,981.3 L1785.7,980.8" class="ln" stroke="#1f1a17" stroke-width="8.1"/>
<path d="M72.0,961.9 L81.8,956.6 L95.0,947.1 L114.7,946.8 L127.9,952.0 L137.8,952.0 L145.7,953.3 L159.6,947.1 L167.5,948.1 L174.0,949.4 L184.0,942.0 L196.6,932.5 L202.7,933.5 L211.5,937.1 L223.0,937.5 L230.9,939.7 L237.9,937.9 L246.7,946.6 L259.9,948.5 L271.3,941.0 L283.6,933.0 L295.0,938.7 L300.7,939.1 L313.8,945.7 L325.7,957.6 L342.9,955.0 L356.0,952.3 L366.6,945.7 L385.0,956.3 L411.4,957.6 L427.3,958.2 L444.4,965.5 L457.6,969.5 L469.4,977.9 L483.5,974.8 L496.0,962.3 L513.2,954.5 L527.2,954.5 L538.2,958.4 L549.1,961.5 L561.6,981.1 L572.6,967.0 L578.8,959.2 L594.5,968.6 L608.6,970.1 L624.2,981.1 L638.3,990.4 L657.0,990.4 L671.1,995.1 L683.5,989.8 L699.1,999.2 L717.8,988.2 L735.0,983.5 L749.1,989.8 L760.1,984.3 L785.1,992.9 L800.7,999.2 L816.3,1007.0 L832.0,1014.8 L847.6,1024.2 L860.1,1029.6 L871.1,1033.5 L886.0,1014.5 L901.8,1018.6 L916.3,1023.4 L930.8,1024.6 L940.4,1029.5 L952.5,1031.3 L970.7,1035.5 L980.3,1042.1 L1000.9,1039.1 L1008.1,1031.9 L1025.1,1025.8 L1034.7,1023.4 L1049.2,1028.2 L1061.3,1030.7 L1079.5,1028.2 L1087.9,1023.4 L1100.0,1025.2 L1115.4,1023.4 L1128.7,1025.8 L1150.4,1029.5 L1174.6,1025.8 L1186.7,1028.2 L1204.8,1031.9 L1223.0,1039.1 L1235.1,1046.4 L1244.7,1053.6 L1259.2,1051.2 L1271.3,1047.6 L1289.5,1051.2 L1303.3,1040.2 L1320.2,1044.4 L1338.4,1049.2 L1362.5,1054.1 L1374.6,1048.0 L1396.4,1039.6 L1418.1,1048.0 L1432.6,1040.8 L1447.1,1044.4 L1461.6,1027.5 L1471.3,1020.2 L1481.0,1008.1 L1490.6,995.2 L1497.9,1000.9 L1503.5,1004.2 L1519.0,975.0 L1529.1,978.0 L1549.4,972.0 L1571.8,971.0 L1592.1,966.0 L1605.3,962.0 L1618.6,978.0 L1634.8,971.0 L1659.6,968.0 L1684.3,974.0 L1707.0,975.0 L1728.8,965.0 L1748.6,964.0 L1768.4,957.6 L1785.7,958.0" class="ln" stroke="#e2313a" stroke-width="8.1" stroke-dasharray="28 7.5"/>
<path d="M72.0,958.5 L81.8,951.9 L93.0,942.0 L101.6,940.0 L116.7,939.4 L131.2,946.6 L137.8,946.0 L145.1,948.6 L157.6,942.0 L167.5,940.7 L174.0,944.0 L183.5,936.5 L196.6,926.9 L202.7,927.8 L211.5,932.2 L223.0,933.1 L230.9,936.1 L237.9,932.2 L246.7,936.6 L258.0,937.4 L268.7,932.6 L274.8,929.6 L279.6,915.4 L295.4,922.0 L313.8,918.0 L321.8,916.7 L332.3,904.8 L345.5,900.9 L358.0,911.5 L368.0,916.0 L379.8,927.3 L398.2,933.8 L404.8,920.7 L415.4,899.6 L424.6,885.0 L432.5,891.6 L437.9,851.9 L449.9,836.4 L460.2,791.6 L475.7,765.8 L482.9,809.6 L489.0,761.8 L497.0,749.8 L511.6,761.8 L518.3,736.5 L524.9,699.3 L532.9,652.8 L540.9,632.9 L547.5,640.9 L555.5,646.2 L563.5,499.0 L570.0,459.0 L575.4,339.5 L583.4,200.0 L591.4,199.0 L598.0,212.0 L604.7,435.0 L612.6,518.6 L618.0,387.0 L627.2,354.0 L633.9,406.0 L641.9,443.0 L649.8,520.0 L655.2,603.7 L663.1,620.9 L668.4,725.9 L676.4,773.8 L684.4,775.1 L692.4,763.1 L699.0,759.1 L705.7,818.5 L712.1,791.0 L720.7,782.3 L727.8,800.9 L734.5,795.5 L741.7,828.8 L749.1,836.7 L756.3,831.4 L770.4,856.7 L785.0,892.6 L791.6,888.0 L799.6,899.2 L807.6,893.9 L820.9,899.2 L827.5,864.7 L834.2,843.4 L844.8,835.4 L850.1,808.8 L858.1,803.5 L863.4,782.3 L871.4,747.7 L878.8,773.0 L884.7,750.4 L893.2,711.8 L899.3,792.9 L907.2,832.8 L912.6,846.0 L921.9,862.0 L935.2,819.5 L943.1,787.0 L949.8,819.5 L957.7,823.5 L964.4,855.3 L972.4,850.0 L980.3,847.4 L995.8,838.0 L1002.0,838.9 L1008.1,864.4 L1016.0,874.1 L1024.0,871.4 L1030.1,859.1 L1038.0,867.9 L1045.1,879.3 L1051.2,899.6 L1058.2,903.1 L1066.2,913.6 L1074.9,907.5 L1086.4,907.5 L1096.0,917.1 L1103.1,934.7 L1109.2,951.4 L1115.4,941.8 L1124.2,938.2 L1131.2,946.2 L1138.2,938.2 L1145.3,936.5 L1152.3,948.8 L1159.3,941.8 L1166.4,941.8 L1180.4,934.7 L1194.5,939.1 L1201.5,947.0 L1210.3,951.4 L1219.1,961.1 L1225.3,962.0 L1233.2,978.7 L1242.0,991.0 L1249.0,998.0 L1259.2,1007.7 L1271.3,1008.9 L1283.4,1011.3 L1289.5,1018.6 L1295.5,993.2 L1303.3,991.4 L1311.8,996.3 L1317.8,1010.8 L1332.3,1015.6 L1340.8,1016.8 L1350.4,1022.9 L1362.5,1025.3 L1380.7,1020.4 L1396.4,1019.0 L1418.1,1027.7 L1435.0,1015.6 L1447.1,1010.8 L1456.8,996.3 L1460.4,983.0 L1470.1,976.9 L1478.6,966.0 L1488.5,946.8 L1500.7,958.9 L1508.8,935.6 L1519.0,925.4 L1529.1,935.6 L1541.3,938.6 L1561.6,939.6 L1574.8,951.8 L1592.1,945.7 L1605.3,938.6 L1620.6,960.0 L1634.8,957.2 L1662.5,954.6 L1679.3,961.5 L1699.1,963.5 L1707.0,965.5 L1715.0,961.5 L1728.8,955.6 L1748.6,961.5 L1768.4,958.6 L1785.7,961.5" class="ln" stroke="#ef7100" stroke-width="8.1"/>
<path d="M72.0,961.4 L81.8,956.1 L95.0,946.6 L114.7,946.3 L127.9,951.5 L137.8,951.5 L145.7,952.8 L159.6,946.6 L167.5,947.6 L174.0,948.9 L184.0,941.5 L196.6,932.0 L202.7,933.0 L211.5,936.6 L223.0,937.0 L230.9,939.2 L237.9,937.4 L246.7,942.0 L258.0,937.9 L268.7,933.1 L274.8,930.1 L283.3,921.0 L288.9,922.1 L295.6,925.6 L307.0,924.5 L313.8,933.8 L325.7,937.8 L332.3,919.3 L345.5,904.8 L360.0,916.7 L368.0,904.8 L375.8,911.4 L383.7,924.6 L398.2,926.0 L411.4,924.6 L424.6,926.0 L433.9,929.9 L444.4,923.3 L457.6,915.4 L468.8,916.4 L472.3,891.4 L480.9,886.3 L487.8,841.5 L503.8,829.4 L516.9,808.3 L526.2,801.7 L538.2,763.1 L547.5,735.2 L552.8,808.3 L556.0,822.0 L560.1,832.5 L569.5,845.0 L583.5,830.5 L597.6,868.5 L610.1,876.3 L619.5,866.9 L627.3,865.3 L633.6,879.4 L639.8,899.8 L652.3,923.2 L662.0,930.0 L675.6,939.7 L685.0,952.2 L692.8,947.6 L706.1,959.3 L714.7,945.2 L733.5,945.2 L744.4,955.4 L761.6,960.1 L785.1,974.1 L800.7,985.1 L824.2,999.2 L847.6,1010.1 L869.5,1025.7 L885.5,1005.4 L901.8,1010.1 L910.2,1011.3 L916.3,1014.3 L930.8,1016.2 L946.5,1019.8 L958.6,1022.2 L970.7,1024.6 L980.3,1030.7 L988.8,1033.1 L998.5,1030.7 L1006.9,1022.2 L1013.0,1022.2 L1033.5,1016.2 L1043.2,1019.8 L1058.9,1024.6 L1066.1,1019.8 L1075.8,1024.6 L1085.5,1027.0 L1101.0,1032.5 L1108.1,1021.0 L1115.4,1015.0 L1126.3,1018.6 L1138.4,1019.8 L1152.9,1023.4 L1173.4,1018.6 L1192.7,1021.0 L1204.8,1024.6 L1223.0,1031.9 L1235.1,1040.3 L1245.9,1045.2 L1259.2,1046.4 L1271.3,1044.0 L1289.5,1046.4 L1297.9,1039.1 L1303.3,1038.0 L1320.2,1042.2 L1338.4,1047.0 L1362.5,1051.9 L1374.6,1045.8 L1396.4,1037.4 L1418.1,1045.8 L1432.6,1038.6 L1447.1,1042.2 L1461.6,1025.3 L1471.3,1018.0 L1481.0,1005.9 L1490.6,993.0 L1497.9,998.7 L1503.5,1002.0 L1519.0,977.2 L1529.1,980.3 L1549.4,974.2 L1571.8,975.2 L1592.1,971.1 L1605.3,967.1 L1618.6,982.3 L1633.8,976.3 L1659.6,972.4 L1669.5,973.4 L1679.3,979.3 L1699.1,980.3 L1707.0,983.3 L1715.0,978.4 L1721.9,977.4 L1728.8,970.4 L1738.7,975.4 L1748.6,975.4 L1763.4,973.4 L1785.7,974.9" class="ln" stroke="#8b3a00" stroke-width="8.1"/>
<path d="M72.0,955.0 L80.3,958.0 L87.5,958.0 L94.7,958.0 L101.9,958.0 L109.0,958.0 L116.7,939.4 L131.2,946.6 L137.8,946.0 L145.1,948.6 L157.6,942.0 L167.5,940.7 L174.0,944.0 L183.5,936.5 L196.6,926.9 L202.7,927.8 L211.5,932.2 L223.0,933.1 L230.9,936.1 L237.9,932.2 L246.7,936.6 L258.0,937.4 L268.7,932.6 L274.8,929.6 L283.3,920.5 L288.9,921.6 L295.6,925.1 L307.0,924.0 L324.4,934.3 L345.5,928.6 L358.7,935.2 L385.0,943.0 L411.4,943.0 L422.0,936.5 L432.5,936.5 L443.0,923.3 L453.6,911.4 L465.4,912.1 L474.0,896.6 L489.5,882.8 L498.1,888.0 L520.5,857.0 L526.5,827.8 L534.2,805.6 L543.5,765.8 L547.5,751.2 L554.2,779.1 L567.4,761.8 L576.7,749.8 L591.4,696.7 L598.0,725.9 L606.0,723.3 L612.6,751.2 L620.6,759.1 L625.9,781.7 L633.9,783.0 L640.5,800.3 L647.2,832.2 L649.2,835.6 L661.7,840.3 L669.5,864.0 L677.0,890.0 L688.0,892.0 L700.0,896.5 L705.5,909.9 L714.6,888.4 L722.5,877.9 L735.0,870.5 L743.4,890.5 L755.4,899.1 L769.9,922.0 L781.5,944.6 L786.3,951.0 L797.3,956.0 L806.5,953.1 L817.2,962.3 L831.7,966.8 L839.5,971.0 L847.6,978.8 L852.8,981.6 L860.4,991.0 L866.7,1001.0 L872.6,999.2 L885.1,971.0 L892.6,977.6 L901.8,982.0 L909.0,979.9 L916.3,984.7 L922.3,979.9 L932.0,978.7 L936.8,972.6 L942.9,961.8 L952.5,969.0 L959.8,965.4 L971.9,965.4 L980.3,970.1 L987.3,973.0 L995.8,963.5 L1004.0,959.7 L1013.0,953.3 L1022.6,947.3 L1030.7,944.6 L1036.3,946.2 L1042.0,948.5 L1049.2,956.9 L1055.3,966.6 L1064.9,969.0 L1074.2,974.5 L1080.7,979.9 L1087.9,988.4 L1095.3,994.2 L1114.2,994.4 L1131.1,1000.4 L1144.4,998.0 L1157.7,999.2 L1174.6,995.6 L1192.7,1001.6 L1210.9,1010.1 L1223.0,1015.0 L1232.6,1024.6 L1241.1,1031.9 L1259.0,1038.0 L1271.0,1035.0 L1280.0,1036.0 L1289.5,1027.0 L1295.5,1021.0 L1303.0,1027.5 L1320.2,1030.9 L1338.4,1036.9 L1362.5,1041.8 L1396.4,1033.3 L1418.1,1040.6 L1432.6,1034.5 L1447.1,1035.7 L1461.6,1016.4 L1471.3,1016.0 L1481.0,1002.0 L1490.7,988.0 L1503.7,994.5 L1519.0,972.0 L1531.1,971.1 L1555.5,966.0 L1582.0,966.0 L1597.2,961.0 L1605.3,958.9 L1619.6,976.2 L1632.8,971.1 L1649.7,969.5 L1664.5,969.5 L1674.4,974.4 L1684.3,977.4 L1699.1,977.4 L1707.0,979.3 L1715.0,974.4 L1723.9,975.4 L1728.8,968.5 L1743.6,971.4 L1758.5,970.0 L1773.3,971.4 L1785.7,972.4" class="ln" stroke="#8329b5" stroke-width="8.3" stroke-dasharray="12.3 5.4"/>
<path d="M72.0,961.4 L81.8,956.1 L95.0,946.6 L114.7,946.3 L127.9,951.5 L137.8,951.5 L145.7,952.8 L159.6,946.6 L167.5,947.6 L174.0,948.9 L184.0,941.5 L196.6,932.0 L202.7,933.0 L211.5,936.6 L223.0,937.0 L230.9,939.2 L237.9,937.4 L246.7,942.0 L260.3,943.8 L271.3,937.0 L277.5,932.2 L283.6,928.2 L289.0,929.5 L297.0,933.7 L309.0,936.0 L324.4,947.0 L339.0,939.8 L358.7,944.4 L367.3,939.0 L382.4,950.3 L411.4,951.0 L431.2,949.7 L453.6,934.5 L463.0,935.4 L475.6,940.4 L480.3,938.8 L488.1,921.6 L499.1,912.3 L522.5,912.3 L538.2,907.6 L547.6,899.8 L555.4,912.3 L567.9,910.7 L577.3,896.6 L582.0,907.6 L597.6,918.5 L608.6,906.0 L624.2,887.2 L633.6,877.9 L643.0,885.7 L655.5,904.4 L661.5,905.0 L677.2,917.8 L683.5,914.7 L705.3,936.6 L713.2,927.2 L725.7,928.8 L753.8,944.4 L772.6,956.0 L788.2,968.0 L807.0,978.0 L828.9,988.0 L847.6,999.0 L866.4,1013.0 L885.1,993.0 L898.1,992.0 L909.0,993.2 L916.3,1000.4 L928.4,1001.6 L950.1,1005.3 L964.6,1005.3 L976.7,1010.1 L986.4,1021.0 L994.8,1018.6 L1008.1,1008.9 L1020.2,1007.7 L1034.7,1001.6 L1046.8,1004.1 L1058.9,1008.9 L1066.1,1006.5 L1075.8,1007.7 L1087.9,1005.3 L1100.0,1007.7 L1114.2,1007.7 L1129.9,1012.5 L1150.4,1010.1 L1174.6,1005.3 L1192.7,1010.1 L1216.9,1017.4 L1229.0,1024.6 L1244.7,1036.7 L1259.2,1036.7 L1271.3,1033.7 L1288.2,1036.7 L1303.0,1025.5 L1320.2,1028.9 L1338.4,1034.9 L1362.5,1039.8 L1396.4,1031.3 L1418.1,1038.6 L1432.6,1032.5 L1447.1,1033.7 L1461.6,1014.4 L1471.3,1008.4 L1481.0,995.1 L1490.7,980.5 L1502.0,989.2 L1519.0,964.0 L1526.1,967.1 L1549.4,961.0 L1571.8,961.0 L1592.1,954.9 L1605.3,948.8 L1618.6,967.1 L1633.8,964.3 L1661.5,962.5 L1679.3,966.5 L1699.1,969.5 L1707.0,972.4 L1715.0,966.5 L1721.9,968.5 L1728.6,961.5 L1748.6,966.5 L1763.4,964.5 L1785.7,966.5" class="ln" stroke="#f5a800" stroke-width="8.4" mask="url(#mES)"/>
<path d="M72.0,961.4 L81.8,956.1 L95.0,946.6 L114.7,946.3 L127.9,951.5 L137.8,951.5 L145.7,952.8 L159.6,946.6 L167.5,947.6 L174.0,948.9 L184.0,941.5 L196.6,932.0 L202.7,933.0 L211.5,936.6 L223.0,937.0 L230.9,939.2 L237.9,937.4 L246.7,942.0 L260.3,943.8 L271.3,937.0 L277.5,932.2 L283.6,928.2 L289.0,929.5 L297.0,933.7 L309.0,936.0 L324.4,947.0 L339.0,939.8 L358.7,944.4 L367.3,939.0 L382.4,950.3 L411.4,951.0 L431.2,949.7 L453.6,934.5 L463.0,935.4 L475.6,940.4 L480.3,938.8 L488.1,921.6 L499.1,912.3 L522.5,912.3 L538.2,907.6 L547.6,899.8 L555.4,912.3 L567.9,910.7 L577.3,896.6 L582.0,907.6 L597.6,918.5 L608.6,906.0 L624.2,887.2 L633.6,877.9 L643.0,885.7 L655.5,904.4 L661.5,905.0 L677.2,917.8 L683.5,914.7 L705.3,936.6 L713.2,927.2 L725.7,928.8 L753.8,944.4 L772.6,956.0 L788.2,968.0 L807.0,978.0 L828.9,988.0 L847.6,999.0 L866.4,1013.0 L885.1,993.0 L898.1,992.0 L909.0,993.2 L916.3,1000.4 L928.4,1001.6 L950.1,1005.3 L964.6,1005.3 L976.7,1010.1 L986.4,1021.0 L994.8,1018.6 L1008.1,1008.9 L1020.2,1007.7 L1034.7,1001.6 L1046.8,1004.1 L1058.9,1008.9 L1066.1,1006.5 L1075.8,1007.7 L1087.9,1005.3 L1100.0,1007.7 L1114.2,1007.7 L1129.9,1012.5 L1150.4,1010.1 L1174.6,1005.3 L1192.7,1010.1 L1216.9,1017.4 L1229.0,1024.6 L1244.7,1036.7 L1259.2,1036.7 L1271.3,1033.7 L1288.2,1036.7 L1303.0,1025.5 L1320.2,1028.9 L1338.4,1034.9 L1362.5,1039.8 L1396.4,1031.3 L1418.1,1038.6 L1432.6,1032.5 L1447.1,1033.7 L1461.6,1014.4 L1471.3,1008.4 L1481.0,995.1 L1490.7,980.5 L1502.0,989.2 L1519.0,964.0 L1526.1,967.1 L1549.4,961.0 L1571.8,961.0 L1592.1,954.9 L1605.3,948.8 L1618.6,967.1 L1633.8,964.3 L1661.5,962.5 L1679.3,966.5 L1699.1,969.5 L1707.0,972.4 L1715.0,966.5 L1721.9,968.5 L1728.6,961.5 L1748.6,966.5 L1763.4,964.5 L1785.7,966.5" class="ln" stroke="#dadada" stroke-width="4.0"/>
<path d="M72.0,958.0 L81.8,951.4 L93.0,941.5 L101.6,939.5 L116.7,938.9 L131.2,946.1 L137.8,945.5 L145.1,948.1 L157.6,941.5 L167.5,940.2 L174.0,943.5 L183.5,936.0 L196.6,926.4 L202.7,927.3 L211.5,931.7 L223.0,932.6 L230.9,935.6 L237.9,931.7 L246.7,936.1 L258.0,936.9 L268.7,932.1 L274.8,929.1 L283.3,920.0 L288.9,921.1 L295.6,924.6 L307.0,923.5 L324.4,933.8 L340.0,930.5 L358.7,936.5 L368.0,930.0 L385.0,941.8 L411.4,943.0 L431.0,945.7 L453.6,942.4 L462.0,944.5 L469.4,947.4 L481.9,948.2 L496.0,929.5 L517.9,924.0 L533.5,927.9 L541.3,924.8 L547.6,907.6 L555.4,912.3 L567.9,901.3 L575.7,874.7 L591.4,880.2 L596.0,896.6 L605.4,921.6 L611.7,906.8 L621.1,902.1 L633.6,893.5 L643.0,899.8 L647.6,913.8 L661.5,923.6 L677.2,938.2 L691.3,928.8 L705.3,944.4 L713.9,934.3 L735.0,935.0 L753.8,941.3 L772.6,953.8 L788.2,966.3 L807.0,975.7 L828.9,985.1 L847.6,996.0 L866.4,1011.7 L885.5,990.5 L898.1,996.8 L904.2,998.0 L913.8,1004.1 L928.4,1005.3 L941.6,1005.3 L950.1,1010.1 L964.6,1008.9 L974.3,1010.1 L986.4,1017.4 L994.8,1013.7 L1002.1,1007.7 L1008.1,996.8 L1020.2,993.2 L1032.3,988.4 L1044.4,988.4 L1058.9,993.2 L1064.9,989.6 L1075.8,993.2 L1087.9,993.2 L1096.4,1000.0 L1102.0,997.0 L1114.2,993.2 L1129.9,999.2 L1144.4,975.1 L1152.9,977.5 L1158.9,969.0 L1166.2,971.4 L1174.6,958.1 L1181.9,960.5 L1192.7,975.1 L1202.4,975.1 L1210.9,981.1 L1223.0,978.7 L1230.2,987.1 L1244.7,1010.1 L1255.6,1022.2 L1262.9,1018.6 L1273.7,1011.3 L1283.4,1012.5 L1289.5,1019.8 L1297.9,1004.1 L1306.5,1000.8 L1314.2,1005.9 L1326.3,1015.6 L1338.4,1021.6 L1350.4,1027.7 L1362.5,1030.1 L1380.7,1027.7 L1396.4,1019.2 L1418.1,1030.1 L1432.6,1020.4 L1447.1,1018.0 L1455.6,1010.8 L1462.9,998.7 L1469.0,997.0 L1474.9,984.2 L1489.5,956.9 L1502.7,963.0 L1516.9,932.5 L1526.1,943.7 L1541.3,942.7 L1548.4,937.6 L1569.8,937.6 L1576.9,942.7 L1592.1,936.6 L1605.3,924.4 L1615.5,937.6 L1621.6,948.8 L1633.8,946.7 L1642.8,952.6 L1649.7,948.7 L1662.5,944.7 L1674.4,950.7 L1689.2,956.6 L1699.1,955.6 L1707.0,961.5 L1713.0,953.6 L1720.9,955.6 L1727.8,946.7 L1748.6,956.6 L1768.4,956.6 L1785.7,959.6" class="ln" stroke="#00a23a" stroke-width="9.2" mask="url(#mIT)"/>
<path d="M72.0,958.0 L81.8,951.4 L93.0,941.5 L101.6,939.5 L116.7,938.9 L131.2,946.1 L137.8,945.5 L145.1,948.1 L157.6,941.5 L167.5,940.2 L174.0,943.5 L183.5,936.0 L196.6,926.4 L202.7,927.3 L211.5,931.7 L223.0,932.6 L230.9,935.6 L237.9,931.7 L246.7,936.1 L258.0,936.9 L268.7,932.1 L274.8,929.1 L283.3,920.0 L288.9,921.1 L295.6,924.6 L307.0,923.5 L324.4,933.8 L340.0,930.5 L358.7,936.5 L368.0,930.0 L385.0,941.8 L411.4,943.0 L431.0,945.7 L453.6,942.4 L462.0,944.5 L469.4,947.4 L481.9,948.2 L496.0,929.5 L517.9,924.0 L533.5,927.9 L541.3,924.8 L547.6,907.6 L555.4,912.3 L567.9,901.3 L575.7,874.7 L591.4,880.2 L596.0,896.6 L605.4,921.6 L611.7,906.8 L621.1,902.1 L633.6,893.5 L643.0,899.8 L647.6,913.8 L661.5,923.6 L677.2,938.2 L691.3,928.8 L705.3,944.4 L713.9,934.3 L735.0,935.0 L753.8,941.3 L772.6,953.8 L788.2,966.3 L807.0,975.7 L828.9,985.1 L847.6,996.0 L866.4,1011.7 L885.5,990.5 L898.1,996.8 L904.2,998.0 L913.8,1004.1 L928.4,1005.3 L941.6,1005.3 L950.1,1010.1 L964.6,1008.9 L974.3,1010.1 L986.4,1017.4 L994.8,1013.7 L1002.1,1007.7 L1008.1,996.8 L1020.2,993.2 L1032.3,988.4 L1044.4,988.4 L1058.9,993.2 L1064.9,989.6 L1075.8,993.2 L1087.9,993.2 L1096.4,1000.0 L1102.0,997.0 L1114.2,993.2 L1129.9,999.2 L1144.4,975.1 L1152.9,977.5 L1158.9,969.0 L1166.2,971.4 L1174.6,958.1 L1181.9,960.5 L1192.7,975.1 L1202.4,975.1 L1210.9,981.1 L1223.0,978.7 L1230.2,987.1 L1244.7,1010.1 L1255.6,1022.2 L1262.9,1018.6 L1273.7,1011.3 L1283.4,1012.5 L1289.5,1019.8 L1297.9,1004.1 L1306.5,1000.8 L1314.2,1005.9 L1326.3,1015.6 L1338.4,1021.6 L1350.4,1027.7 L1362.5,1030.1 L1380.7,1027.7 L1396.4,1019.2 L1418.1,1030.1 L1432.6,1020.4 L1447.1,1018.0 L1455.6,1010.8 L1462.9,998.7 L1469.0,997.0 L1474.9,984.2 L1489.5,956.9 L1502.7,963.0 L1516.9,932.5 L1526.1,943.7 L1541.3,942.7 L1548.4,937.6 L1569.8,937.6 L1576.9,942.7 L1592.1,936.6 L1605.3,924.4 L1615.5,937.6 L1621.6,948.8 L1633.8,946.7 L1642.8,952.6 L1649.7,948.7 L1662.5,944.7 L1674.4,950.7 L1689.2,956.6 L1699.1,955.6 L1707.0,961.5 L1713.0,953.6 L1720.9,955.6 L1727.8,946.7 L1748.6,956.6 L1768.4,956.6 L1785.7,959.6" class="ln" stroke="#fff" stroke-opacity="0.08" stroke-width="4.4" stroke-dasharray="0 12.6 10 0"/>
<path d="M72.0,958.0 L81.8,951.4 L93.0,941.5 L101.6,939.5 L116.7,938.9 L131.2,946.1 L137.8,945.5 L145.1,948.1 L157.6,941.5 L167.5,940.2 L174.0,943.5 L183.5,936.0 L196.6,926.4 L202.7,927.3 L211.5,931.7 L223.0,932.6 L230.9,935.6 L237.9,931.7 L246.7,936.1 L258.0,936.9 L268.7,932.1 L274.8,929.1 L283.3,920.0 L288.9,921.1 L295.6,924.6 L307.0,923.5 L324.4,933.8 L340.0,930.5 L358.7,936.5 L368.0,930.0 L385.0,941.8 L411.4,943.0 L431.0,945.7 L453.6,942.4 L462.0,944.5 L469.4,947.4 L481.9,948.2 L496.0,929.5 L517.9,924.0 L533.5,927.9 L541.3,924.8 L547.6,907.6 L555.4,912.3 L567.9,901.3 L575.7,874.7 L591.4,880.2 L596.0,896.6 L605.4,921.6 L611.7,906.8 L621.1,902.1 L633.6,893.5 L643.0,899.8 L647.6,913.8 L661.5,923.6 L677.2,938.2 L691.3,928.8 L705.3,944.4 L713.9,934.3 L735.0,935.0 L753.8,941.3 L772.6,953.8 L788.2,966.3 L807.0,975.7 L828.9,985.1 L847.6,996.0 L866.4,1011.7 L885.5,990.5 L898.1,996.8 L904.2,998.0 L913.8,1004.1 L928.4,1005.3 L941.6,1005.3 L950.1,1010.1 L964.6,1008.9 L974.3,1010.1 L986.4,1017.4 L994.8,1013.7 L1002.1,1007.7 L1008.1,996.8 L1020.2,993.2 L1032.3,988.4 L1044.4,988.4 L1058.9,993.2 L1064.9,989.6 L1075.8,993.2 L1087.9,993.2 L1096.4,1000.0 L1102.0,997.0 L1114.2,993.2 L1129.9,999.2 L1144.4,975.1 L1152.9,977.5 L1158.9,969.0 L1166.2,971.4 L1174.6,958.1 L1181.9,960.5 L1192.7,975.1 L1202.4,975.1 L1210.9,981.1 L1223.0,978.7 L1230.2,987.1 L1244.7,1010.1 L1255.6,1022.2 L1262.9,1018.6 L1273.7,1011.3 L1283.4,1012.5 L1289.5,1019.8 L1297.9,1004.1 L1306.5,1000.8 L1314.2,1005.9 L1326.3,1015.6 L1338.4,1021.6 L1350.4,1027.7 L1362.5,1030.1 L1380.7,1027.7 L1396.4,1019.2 L1418.1,1030.1 L1432.6,1020.4 L1447.1,1018.0 L1455.6,1010.8 L1462.9,998.7 L1469.0,997.0 L1474.9,984.2 L1489.5,956.9 L1502.7,963.0 L1516.9,932.5 L1526.1,943.7 L1541.3,942.7 L1548.4,937.6 L1569.8,937.6 L1576.9,942.7 L1592.1,936.6 L1605.3,924.4 L1615.5,937.6 L1621.6,948.8 L1633.8,946.7 L1642.8,952.6 L1649.7,948.7 L1662.5,944.7 L1674.4,950.7 L1689.2,956.6 L1699.1,955.6 L1707.0,961.5 L1713.0,953.6 L1720.9,955.6 L1727.8,946.7 L1748.6,956.6 L1768.4,956.6 L1785.7,959.6" class="ln" stroke="#00a23a" stroke-width="4.0" stroke-dasharray="12.6 10"/>
<text id="t_title" x="22.799999999999994" y="52.5" class="tt" textLength="1426.88" lengthAdjust="spacingAndGlyphs">Renditen zehnjähriger Staatsanleihen in <tspan class="tt2">ausgewählten Ländern des Euroraums</tspan></text>
<text id="t_sub" x="22.5" y="116" class="st" textLength="313.20" lengthAdjust="spacingAndGlyphs">Monatsdurchschnitte in %</text>
<text id="t_f1" x="22.799999999999994" y="1212" class="ftx" textLength="841.95" lengthAdjust="spacingAndGlyphs">Quellen: Deutsche Bundesbank, Bloomberg und eigene Berechnungen.</text>
<text id="t_f2" x="21.799999999999994" y="1255.1" class="ftx" textLength="264.79" lengthAdjust="spacingAndGlyphs">Deutsche Bundesbank</text>
<text id="t_date" x="1796.3000000000004" y="1255.4" class="dtx" text-anchor="end" textLength="148.02" lengthAdjust="spacingAndGlyphs">25. Nov. 2025</text>
</svg>
</body></html>
